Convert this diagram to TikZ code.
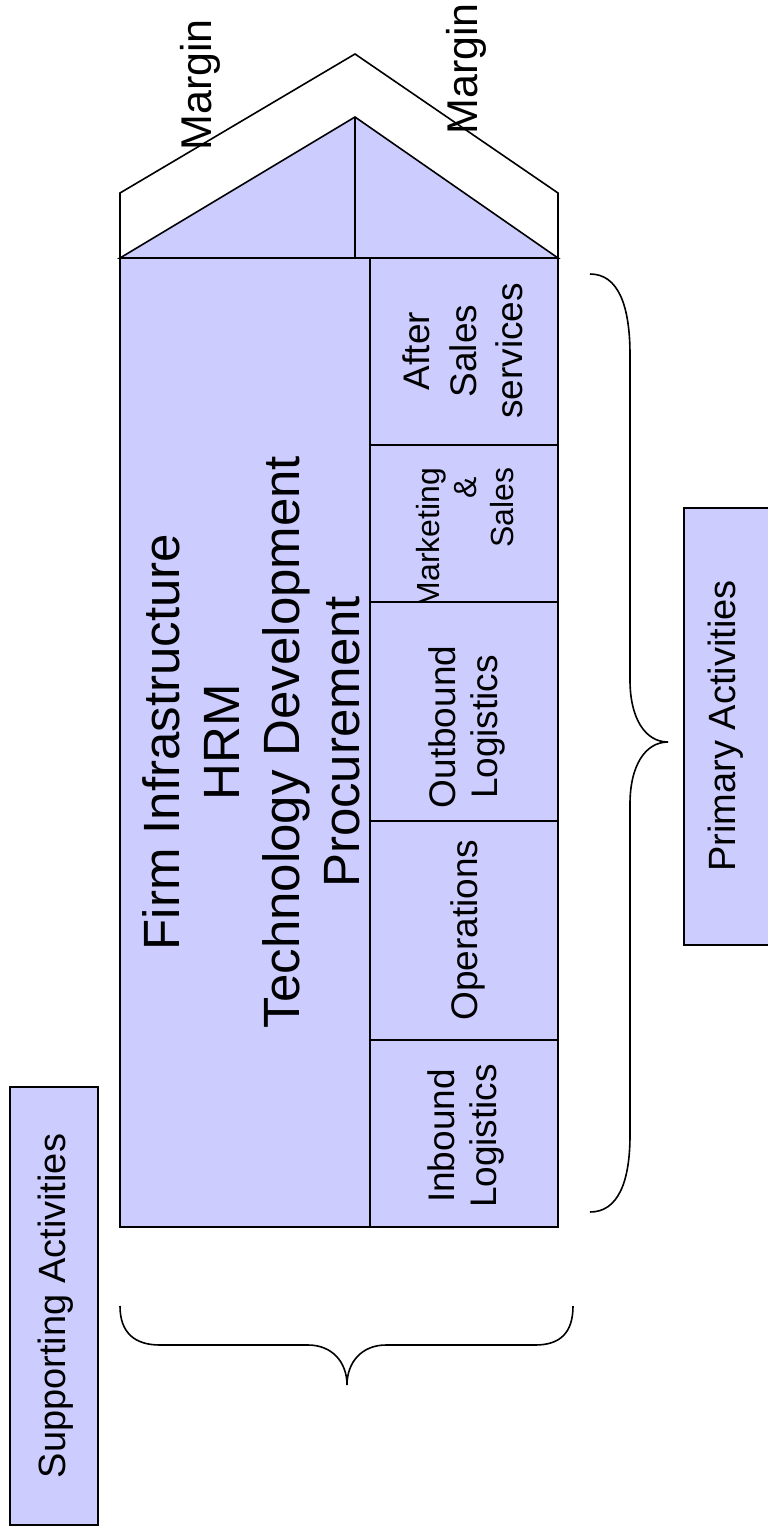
\documentclass[tikz,border=0pt]{standalone}
\usepackage{fontspec}
\setmainfont{Liberation Sans}
\definecolor{lav}{HTML}{CCCCFF}
\begin{document}
\begin{tikzpicture}[x=1pt,y=-1pt,line width=1.6pt,line join=miter,
  shade/.style={draw=black,fill=lav},
  outline/.style={draw=black},
  brace/.style={draw=black,line width=1.6pt},
  rtext/.style={rotate=90,inner sep=0pt,align=center,text=black},
  bigtext/.style={rtext,font=\fontsize{51}{60}\selectfont},
  celltext/.style={rtext,font=\fontsize{37}{42}\selectfont},
  mtext/.style={rtext,align=right,font=\fontsize{32}{37}\selectfont},
  labeltext/.style={rtext,font=\fontsize{38}{45}\selectfont},
  margintext/.style={rtext,font=\fontsize{43}{50}\selectfont}]
\useasboundingbox (0,0) rectangle (768,1537);

% roof outline (margin)
\draw[outline] (120,258) -- (120,193) -- (355,54) -- (558,193) -- (558,258);
% filled roof triangle
\draw[shade] (120,258) -- (355,117) -- (558,258) -- cycle;
\draw (355,117) -- (355,258);

% supporting activities block
\draw[shade] (120,258) rectangle (370,1227);
\node[bigtext] (support) at (251,742) {Firm Infrastructure\\HRM\\Technology Development\\Procurement};

% primary activity cells
\draw[shade] (370,258) rectangle (558,445);
\draw[shade] (370,445) rectangle (558,602);
\draw[shade] (370,602) rectangle (558,821);
\draw[shade] (370,821) rectangle (558,1040);
\draw[shade] (370,1040) rectangle (558,1227);

\node[celltext,font=\fontsize{37}{46.5}\selectfont] (after) at (463,351) {After\\Sales\\services};
\begin{scope}
  \clip (371,446) rectangle (557,601);
  \node[mtext,anchor=east] (mkt) at (465.5,467) {Marketing\\\&\kern0.278em\\Sales};
\end{scope}
\draw (370,602) -- (558,602);
\node[celltext] (outb) at (467,727) {Outbound\\Logistics};
\node[celltext] (ops) at (467.5,930) {Operations};
\node[celltext] (inb) at (466,1136) {Inbound\\Logistics};

% margin labels
\node[margintext] (m1) at (200,85) {Margin};
\node[margintext] (m2) at (466,69) {Margin};

% label boxes
\draw[shade] (10,1087) rectangle (98,1525);
\node[labeltext] (suplab) at (56,1306) {Supporting Activities};
\draw[shade] (684,508) rectangle (775,945);
\node[labeltext] (primlab) at (726,726) {Primary Activities};

% right brace (primary)
\coordinate (rb1) at (590,274);
\coordinate (rbt) at (668,742);
\coordinate (rb2) at (590,1212);
\draw[brace] (rb1) .. controls (618,274) and (630,305) .. (630,355)
  -- (630,680) .. controls (630,718) and (645,742) .. (rbt)
  .. controls (645,742) and (630,766) .. (630,804)
  -- (630,1135) .. controls (630,1182) and (618,1212) .. (rb2);

% bottom brace (supporting)
\coordinate (bb1) at (120,1306);
\coordinate (bbt) at (347,1385);
\coordinate (bb2) at (573,1306);
\draw[brace] (bb1) .. controls (120,1333) and (135,1345) .. (160,1345)
  -- (308,1345) .. controls (332,1345) and (347,1362) .. (bbt)
  .. controls (347,1362) and (362,1345) .. (386,1345)
  -- (535,1345) .. controls (560,1345) and (573,1333) .. (bb2);
\end{tikzpicture}
\end{document}
